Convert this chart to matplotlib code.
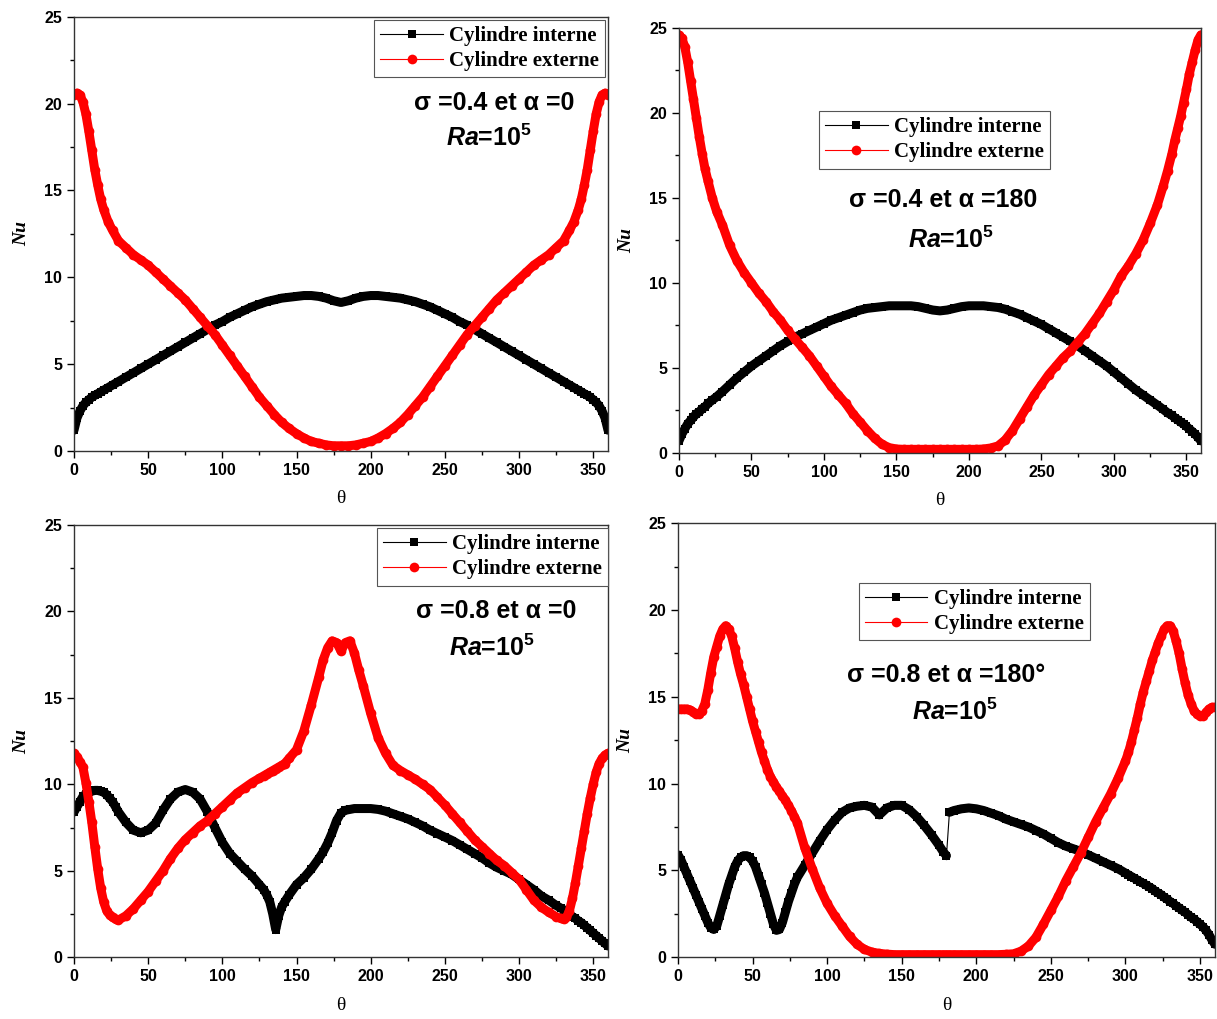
import matplotlib.pyplot as plt
from matplotlib.ticker import MultipleLocator

# theta grid shared by the two sigma=0.4 panels (denser near the steep ends)
theta_sym = [0, 2, 4, 6, 8, 10, 12, 14, 16, 18, 20, 23, 26,
             30, 35, 40, 45, 50, 55, 60, 65, 70, 75, 80, 85, 90, 95, 100, 105,
             110, 115, 120, 125, 130, 135, 140, 145, 150, 155, 160, 165, 170, 175, 180,
             185, 190, 195, 200, 205, 210, 215, 220, 225, 230, 235, 240, 245, 250, 255,
             260, 265, 270, 275, 280, 285, 290, 295, 300, 305, 310, 315, 320, 325, 330,
             334, 337, 340, 342, 344, 346, 348, 350, 352, 354, 356, 358, 360]

# sigma=0.4, alpha=0
nu_int_a = [1.2, 1.9, 2.3, 2.6, 2.8, 2.95, 3.1, 3.2, 3.3, 3.4, 3.5, 3.65, 3.8,
            4.0, 4.25, 4.5, 4.75, 5.0, 5.25, 5.5, 5.75, 6.0, 6.25, 6.5, 6.75, 7.0, 7.25, 7.45, 7.7,
            7.9, 8.1, 8.3, 8.45, 8.6, 8.7, 8.8, 8.85, 8.9, 8.95, 8.95, 8.9, 8.8, 8.65, 8.55,
            8.65, 8.8, 8.9, 8.95, 8.95, 8.9, 8.85, 8.8, 8.7, 8.6, 8.45, 8.3, 8.1, 7.9, 7.7,
            7.45, 7.25, 7.0, 6.75, 6.5, 6.25, 6.0, 5.75, 5.5, 5.25, 5.0, 4.75, 4.5, 4.25, 4.0,
            3.8, 3.65, 3.5, 3.4, 3.3, 3.2, 3.1, 2.95, 2.8, 2.6, 2.3, 1.9, 1.2]
nu_ext_a = [20.5, 20.6, 20.5, 20.1, 19.4, 18.4, 17.3, 16.2, 15.3, 14.5, 13.9, 13.2, 12.7,
            12.1, 11.7, 11.3, 11.0, 10.7, 10.3, 9.9, 9.5, 9.1, 8.7, 8.2, 7.7, 7.2, 6.7, 6.1, 5.5,
            4.9, 4.3, 3.7, 3.1, 2.6, 2.1, 1.65, 1.3, 1.0, 0.75, 0.55, 0.45, 0.35, 0.3, 0.3,
            0.3, 0.35, 0.45, 0.55, 0.75, 1.0, 1.3, 1.65, 2.1, 2.6, 3.1, 3.7, 4.3, 4.9, 5.5,
            6.1, 6.7, 7.2, 7.7, 8.2, 8.7, 9.1, 9.5, 9.9, 10.3, 10.7, 11.0, 11.3, 11.7, 12.1,
            12.7, 13.2, 13.9, 14.5, 15.3, 16.2, 17.3, 18.4, 19.4, 20.1, 20.5, 20.6, 20.5]

# sigma=0.4, alpha=180
nu_int_b = [0.7, 1.1, 1.4, 1.7, 1.9, 2.1, 2.3, 2.4, 2.6, 2.7, 2.9, 3.1, 3.3,
            3.6, 4.0, 4.4, 4.75, 5.1, 5.4, 5.7, 6.0, 6.3, 6.55, 6.8, 7.0, 7.2, 7.4, 7.6, 7.8,
            7.95, 8.1, 8.25, 8.4, 8.5, 8.55, 8.6, 8.65, 8.65, 8.65, 8.65, 8.6, 8.5, 8.4, 8.35,
            8.4, 8.5, 8.6, 8.65, 8.65, 8.65, 8.6, 8.55, 8.45, 8.3, 8.15, 7.95, 7.75, 7.55, 7.3,
            7.05, 6.8, 6.55, 6.3, 6.0, 5.7, 5.4, 5.1, 4.75, 4.4, 4.05, 3.7, 3.4, 3.1, 2.8,
            2.55, 2.35, 2.2, 2.05, 1.95, 1.8, 1.7, 1.55, 1.4, 1.25, 1.1, 0.9, 0.7]
nu_ext_b = [24.6, 24.4, 23.9, 23.0, 21.9, 20.8, 19.7, 18.6, 17.6, 16.7, 16.0, 15.0, 14.2,
            13.4, 12.2, 11.3, 10.6, 10.0, 9.4, 8.9, 8.3, 7.8, 7.2, 6.7, 6.2, 5.7, 5.1, 4.5, 3.9,
            3.4, 2.9, 2.3, 1.8, 1.3, 0.85, 0.5, 0.3, 0.22, 0.2, 0.2, 0.2, 0.2, 0.2, 0.2,
            0.2, 0.2, 0.2, 0.2, 0.2, 0.22, 0.28, 0.4, 0.75, 1.3, 2.0, 2.7, 3.4, 4.0, 4.6,
            5.1, 5.6, 6.0, 6.5, 7.0, 7.6, 8.2, 8.9, 9.6, 10.4, 11.0, 11.7, 12.5, 13.5, 14.6,
            15.7, 16.6, 17.6, 18.4, 19.1, 19.8, 20.6, 21.4, 22.3, 23.0, 23.7, 24.3, 24.6]

# sigma=0.8, alpha=0
theta_c = [0, 2, 4, 6, 8, 10, 12, 14, 16, 18, 20, 22, 24, 26, 28, 30,
           35, 40, 45, 50, 55, 60, 65, 70, 75, 80, 85, 90, 95, 100, 105, 110, 115, 120, 125,
           128, 130, 132, 134, 136, 138, 140, 142,
           145, 150, 155, 160, 165,
           168, 171, 174, 177, 180, 183, 186, 189, 192,
           195, 200, 205, 210, 215, 220, 225, 230, 235, 240, 245, 250, 255, 260, 265, 270,
           275, 280, 285, 290, 295, 300, 305, 310, 315, 320, 325,
           328, 330, 332, 334, 336, 338, 340, 342, 344, 346, 348, 350, 352, 354, 356, 358, 360]
nu_int_c = [8.4, 8.7, 9.0, 9.3, 9.45, 9.55, 9.6, 9.65, 9.65, 9.6, 9.55, 9.4, 9.2, 9.0, 8.7, 8.4,
            7.8, 7.35, 7.2, 7.35, 7.75, 8.5, 9.15, 9.55, 9.7, 9.55, 9.15, 8.4, 7.5, 6.65, 6.0,
            5.55, 5.1, 4.7, 4.2,
            3.9, 3.6, 3.2, 2.5, 1.6, 2.4, 2.9, 3.2,
            3.6, 4.2, 4.6, 5.1, 5.7,
            6.1, 6.6, 7.2, 7.9, 8.35, 8.5, 8.55, 8.6, 8.6,
            8.6, 8.6, 8.55, 8.45, 8.3, 8.15, 8.0, 7.8, 7.6, 7.35, 7.15, 6.95, 6.75, 6.5, 6.25,
            6.0, 5.75, 5.45, 5.2, 5.0, 4.8, 4.5, 4.2, 3.9, 3.55, 3.3, 3.0,
            2.85, 2.75, 2.6, 2.5, 2.35, 2.25, 2.1, 2.0, 1.85, 1.7, 1.55, 1.4, 1.25, 1.1, 0.95,
            0.8, 0.65]
nu_ext_c = [11.8, 11.6, 11.3, 11.0, 10.1, 9.0, 7.8, 6.4, 5.1, 4.0, 3.2, 2.7, 2.45, 2.3, 2.2, 2.15,
            2.4, 2.8, 3.3, 3.8, 4.4, 5.0, 5.7, 6.3, 6.8, 7.2, 7.6, 7.9, 8.3, 8.7, 9.1, 9.5, 9.8,
            10.1, 10.35,
            10.5, 10.6, 10.7, 10.8, 10.9, 11.0, 11.1, 11.2,
            11.5, 12.0, 13.1, 14.6, 16.2,
            17.2, 17.9, 18.3, 18.2, 17.7, 18.2, 18.3, 17.6, 16.6,
            15.7, 14.1, 12.7, 11.8, 11.1, 10.8, 10.55, 10.3, 10.0, 9.7, 9.25, 8.8, 8.3, 7.8,
            7.3, 6.8, 6.4, 6.0, 5.6, 5.3, 4.9, 4.5, 3.9, 3.3, 2.9, 2.6, 2.35,
            2.25, 2.2, 2.3, 2.7, 3.4, 4.3, 5.3, 6.3, 7.3, 8.3, 9.2, 10.0, 10.7, 11.2, 11.5,
            11.7, 11.8]

# sigma=0.8, alpha=180
theta_d = [0, 2, 4, 6, 8, 10, 12, 14, 16, 18, 20, 22, 24, 26, 28, 30, 32, 34, 36, 38, 40,
           42, 44, 46, 48, 50, 52, 54, 56, 58, 60, 62, 64, 66, 68, 70, 72, 74, 76, 78, 80,
           85, 90, 95, 100, 105, 110, 115, 120, 125, 130, 135, 140, 145, 150, 155, 160, 165,
           170, 175,
           178, 180, 182,
           185, 190, 195, 200, 205, 210, 215, 220, 225, 230, 235, 240, 245, 250, 255, 260,
           265, 270, 275, 280, 285, 290, 295,
           300, 302, 304, 306, 308, 310, 312, 314, 316, 318, 320, 322, 324, 326, 328, 330,
           332, 334, 336, 338, 340, 342, 344, 346, 348, 350, 352, 354, 356, 358, 360]
nu_int_d = [5.9, 5.6, 5.2, 4.8, 4.4, 4.0, 3.6, 3.2, 2.8, 2.4,
            2.0, 1.7, 1.6, 1.8, 2.4, 3.0, 3.6, 4.2, 4.7, 5.2,
            5.55, 5.75, 5.85, 5.85, 5.75, 5.55, 5.2, 4.7, 4.2, 3.7,
            3.1, 2.5, 1.9, 1.55, 1.6, 2.0, 2.6, 3.2, 3.7, 4.2, 4.6,
            5.3, 6.0, 6.7, 7.35, 7.9, 8.35, 8.6, 8.7, 8.75, 8.65, 8.2, 8.6, 8.75, 8.75, 8.5,
            8.1, 7.6, 7.05, 6.45,
            6.05, 5.85, 8.35,
            8.45, 8.55, 8.6, 8.55, 8.45, 8.3, 8.15, 7.95, 7.8, 7.65, 7.5, 7.3, 7.1, 6.85,
            6.6, 6.4, 6.25, 6.1, 5.9, 5.7, 5.5, 5.3, 5.1,
            4.85, 4.75, 4.65, 4.55, 4.45, 4.35, 4.25, 4.15, 4.05, 3.95,
            3.8, 3.7, 3.6, 3.45, 3.35, 3.2, 3.1, 2.95, 2.85, 2.7,
            2.6, 2.45, 2.3, 2.2, 2.05, 1.9, 1.75, 1.55, 1.3, 1.0, 0.75]
nu_ext_d = [14.3, 14.3, 14.3, 14.3, 14.25, 14.15, 14.0, 14.0, 14.2, 14.6,
            15.4, 16.4, 17.3, 17.9, 18.5, 18.9, 19.1, 18.9, 18.5, 17.8,
            17.0, 16.3, 15.7, 15.0, 14.3, 13.6, 13.0, 12.4, 11.8, 11.3,
            10.8, 10.4, 10.1, 9.8, 9.55, 9.3, 9.05, 8.75, 8.45, 8.1, 7.75,
            6.3, 5.1, 4.0, 3.1, 2.4, 1.8, 1.2, 0.75, 0.45, 0.3, 0.22, 0.18, 0.15, 0.15, 0.15,
            0.15, 0.15, 0.15, 0.15,
            0.15, 0.15, 0.15,
            0.15, 0.15, 0.15, 0.15, 0.15, 0.15, 0.15, 0.17, 0.2, 0.35, 0.65, 1.15, 1.9, 2.7,
            3.5, 4.4, 5.2, 6.0, 6.9, 7.8, 8.6, 9.4, 10.3,
            11.3, 11.8, 12.4, 13.1, 13.8, 14.6, 15.3, 15.9, 16.5, 17.1,
            17.6, 18.1, 18.5, 18.9, 19.1, 19.1, 18.8, 18.2, 17.5, 16.6,
            15.8, 15.1, 14.6, 14.2, 14.0, 13.9, 13.9, 14.1, 14.3, 14.4, 14.4]

labels = ["Cylindre interne", "Cylindre externe"]
titles = ["\u03c3 =0.4 et \u03b1 =0", "\u03c3 =0.4 et \u03b1 =180",
          "\u03c3 =0.8 et \u03b1 =0", "\u03c3 =0.8 et \u03b1 =180\u00b0"]

plt.rcParams['font.family'] = 'Liberation Sans'
plt.rcParams['mathtext.fontset'] = 'custom'
plt.rcParams['mathtext.it'] = 'Liberation Sans:italic:bold'
plt.rcParams['mathtext.rm'] = 'Liberation Sans:bold'
plt.rcParams['mathtext.bf'] = 'Liberation Sans:bold'

fig = plt.figure(figsize=(12.17, 10.19), dpi=100)

# axes rect, legend anchor (upper right corner), text positions
layout = [
    ([0.0608, 0.5574, 0.4388, 0.4262], (0.995, 0.993), (0.787, 0.801), (0.777, 0.721)),
    ([0.5579, 0.5557, 0.4289, 0.4168], (0.711, 0.805), (0.506, 0.595), (0.521, 0.501)),
    ([0.0608, 0.0606, 0.4388, 0.4242], (1.0, 0.993), (0.790, 0.801), (0.782, 0.715)),
    ([0.5571, 0.0606, 0.4412, 0.4259], (0.767, 0.863), (0.499, 0.651), (0.516, 0.566)),
]
# theta at which the inner curve jumps (band is not drawn across it)
series = [
    (theta_sym, nu_int_a, nu_ext_a, None),
    (theta_sym, nu_int_b, nu_ext_b, None),
    (theta_c, nu_int_c, nu_ext_c, None),
    (theta_d, nu_int_d, nu_ext_d, 182),
]

def band(ax, th, nu, color, brk):
    # dense markers in the original merge into a thick band
    parts = [(th, nu)]
    if brk is not None:
        k = th.index(brk)
        parts = [(th[:k], nu[:k]), (th[k:], nu[k:])]
    for x, y in parts:
        ax.plot(x, y, color=color, lw=6.5, solid_capstyle='round',
                solid_joinstyle='round')

for i in range(4):
    rect, leg_pos, t1_pos, t2_pos = layout[i]
    th, nin, nex, brk = series[i]
    ax = fig.add_axes(rect)
    ax.plot(th, nin, color='black', lw=0.8, marker='s', ms=6.3,
            markeredgewidth=0, label=labels[0])
    band(ax, th, nin, 'black', brk)
    ax.plot(th, nex, color='#ff0000', lw=0.8, marker='o', ms=7,
            markeredgewidth=0, label=labels[1])
    band(ax, th, nex, '#ff0000', None)
    ax.set_xlim(0, 360)
    ax.set_ylim(0, 25)
    ax.xaxis.set_major_locator(MultipleLocator(50))
    ax.xaxis.set_minor_locator(MultipleLocator(25))
    ax.yaxis.set_major_locator(MultipleLocator(5))
    ax.yaxis.set_minor_locator(MultipleLocator(2.5))
    ax.tick_params(which='major', direction='out', length=5, width=1, labelsize=11.5)
    ax.tick_params(which='minor', direction='out', length=3, width=1)
    for lab in ax.get_xticklabels() + ax.get_yticklabels():
        lab.set_fontweight('bold')
    for sp in ax.spines.values():
        sp.set_linewidth(1.0)
        sp.set_color('#333333')
    ax.set_xlabel("\u03b8", fontsize=14, family='Liberation Serif', labelpad=9)
    ax.set_ylabel("Nu", fontsize=14, family='Liberation Serif', style='italic',
                  fontweight='bold', labelpad=10)
    leg = ax.legend(loc='upper right', bbox_to_anchor=leg_pos, borderaxespad=0,
                    prop={'family': 'Liberation Serif', 'weight': 'bold', 'size': 15},
                    fancybox=False, framealpha=1, edgecolor='#555555',
                    borderpad=0.3, labelspacing=0.25, handlelength=3.0, handletextpad=0.3)
    leg.get_frame().set_linewidth(0.8)
    leg.set_zorder(5)
    ax.text(t1_pos[0], t1_pos[1], titles[i], transform=ax.transAxes, ha='center',
            va='center', fontsize=18, fontweight='bold')
    ax.text(t2_pos[0], t2_pos[1], r"$\mathit{Ra}$=10$^{\mathbf{5}}$", transform=ax.transAxes,
            ha='center', va='center', fontsize=18, fontweight='bold')

fig.savefig('out.png', dpi=100)
